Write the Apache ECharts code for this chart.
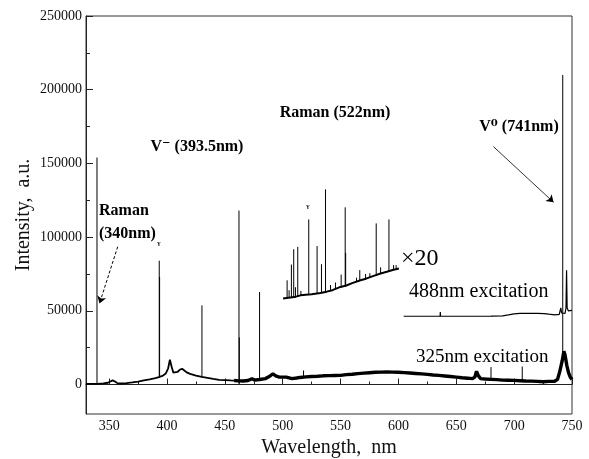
<!DOCTYPE html>
<html><head><meta charset="utf-8">
<script src="https://cdn.jsdelivr.net/npm/echarts@6/dist/echarts.min.js"></script>
<style>html,body{margin:0;padding:0;background:#fff}#c{width:589px;height:459px}</style>
</head><body><div id="c"></div>
<script>
// ---- axis ticks ----
const xTickLabels = [350, 400, 450, 500, 550, 600, 650, 700, 750];
const xMinorTicks = [375, 425, 475, 525, 575, 625, 675, 725];
const yTickLabels = [0, 50000, 100000, 150000, 200000, 250000];
const yMinorTicks = [25000, 75000, 125000, 175000, 225000];

// ---- 325 nm excitation: broad background (smooth part / noisy part) ----
const bgAWl  = [330,335,340,345,349,351,353,355,357,360,365,370,375,380,385,390,393,396,399,401,402.5,404,405.5,407,409,411,413,415,417,420,425,430,435,440,445,450,455,458];
const bgAInt = [500,500,500,800,1200,2000,2800,2000,1000,700,900,1400,2000,2800,3500,4400,5000,5800,7500,11000,16800,12000,8000,7300,8500,10000,10700,9500,8200,7200,6100,5200,4500,3800,3200,3000,2800,2700];
const bgBWl  = [458,462,466,470,473.4,476,480,485,488,491.6,494,497,503,508,512,515,520,525,530,535,540,545,550,555,560,565,570,575,580,585,590,595,600,605,610,615,620,625,630,635,640,645,650,655,660,664,666,667.5,669,671,675,680,685,690,695,700,705,710,715,720,725,730,735,737.5,739.5,741.5,743,744,745.5,747,748.5,750];
const bgBInt = [2700,2500,2400,2700,3900,3000,3400,4000,5200,7300,5800,5000,5000,4000,4400,4800,5200,5400,5600,5900,6000,6100,6200,6700,7000,7400,7700,8000,8300,8400,8500,8400,8300,8100,7800,7500,7200,6900,6500,6200,5800,5400,5000,4600,4300,4000,5000,9000,6000,4000,3700,3500,3300,3000,2900,2800,2600,2400,2300,2100,1900,2100,2200,3500,9000,16000,22500,20000,13000,8000,5000,3500];

// ---- sharp emission lines (wavelength, foot, top) ----
const lineWl   = [339.5, 393.3, 393.6, 430.2, 462.2, 462.5, 480, 518, 680, 707, 742];
const lineBase = [500, 5000, 5000, 5200, 500, 500, 3400, 5000, 3500, 2600, 22000];
const lineTop  = [154000, 84000, 73000, 53700, 118000, 32000, 62800, 9500, 11800, 12200, 210000];

// ---- 488 nm excitation trace (offset) ----
const ex488Wl  = [604.5,636,636.2,636.4,660,680,690,695,700,705,712,720,726,730,735,739,740.3,741,742.5,744,744.8,745.3,745.8,746.8,748,750];
const ex488Int = [46300,46300,49200,46300,46300,46400,46600,47200,47900,48200,48300,48300,48100,47700,47300,47600,52000,48500,48000,48300,52000,77500,52000,50000,50300,50300];

// ---- x20 inset (488 nm excitation, 500-600 nm) ----
const insetWl  = [500.3,505,510,515.3,520,525,532.6,538,543,549.9,555,560,567.2,572,578,584.6,590,595,600.4];
const insetInt = [58300,58900,59300,60500,60900,61300,62100,63000,64000,66200,67200,68800,70700,71800,73500,75300,76500,77700,78700];
const insetLineWl   = [503.8,505.5,507.5,509.5,511,513,515.7,522.5,529.7,533.5,537,541.3,545.6,550.5,554,554.4,563.8,566.6,571.6,575.3,580.8,584.6,591.8,595.8,598];
const insetLineBase = [58600,58700,58900,59100,59200,59400,60500,61000,61800,62200,62800,63600,64500,65800,66500,66500,69500,70300,71500,72500,74000,75200,76800,77800,78200];
const insetLineTop  = [70700,64000,81400,91800,66000,93400,63500,112000,93900,81600,132400,67500,69200,74600,120200,89300,72500,77600,75000,75500,109300,79500,112000,81000,81000];

const zip = (xs, ys) => xs.map((x, i) => [x, ys[i]]);
const spikes = (xs, b, t) => xs.flatMap((x, i) => [[x, b[i]], [x, t[i]], [x, '-']]);

const SERIF = '"Liberation Serif","DejaVu Serif",serif';
const X_MIN = 330, X_MAX = 750, Y_MIN = -20000, Y_MAX = 250000;

function lineSeries(data, width, extra) {
  return Object.assign({
    type: 'line', data, showSymbol: false, symbol: 'none', silent: true,
    connectNulls: false, animation: false,
    lineStyle: { color: '#000', width },
    emphasis: { disabled: true }
  }, extra || {});
}

const chart = echarts.init(document.getElementById('c'), null, { renderer: 'canvas' });
chart.setOption({
  animation: false,
  backgroundColor: '#fff',
  textStyle: { fontFamily: SERIF },
  grid: { left: 86, right: 17, top: 16, bottom: 45, outerBoundsMode: 'none', containLabel: false,
          show: true, borderColor: '#333', borderWidth: 1 },
  xAxis: [{
    type: 'value', min: X_MIN, max: X_MAX,
    name: 'Wavelength,  nm', nameLocation: 'middle', nameGap: 23,
    nameTextStyle: { fontFamily: SERIF, fontSize: 20, color: '#111' },
    axisLine: { show: true, lineStyle: { color: '#222', width: 1 } },
    axisTick: { show: true, inside: true, length: 6, customValues: xTickLabels, lineStyle: { color: '#222' } },
    axisLabel: { customValues: xTickLabels, margin: 5, fontFamily: SERIF, fontSize: 14, color: '#111', formatter: v => String(v) },
    splitLine: { show: false }
  }, {
    type: 'value', min: X_MIN, max: X_MAX, position: 'bottom',
    axisLine: { show: false },
    axisTick: { show: true, inside: true, length: 3, customValues: xMinorTicks, lineStyle: { color: '#222' } },
    axisLabel: { show: false }, splitLine: { show: false }
  }],
  yAxis: [{
    type: 'value', min: Y_MIN, max: Y_MAX,
    name: 'Intensity,  a.u.', nameLocation: 'middle', nameGap: 52, nameRotate: 90, nameMoveOverlap: false,
    nameTextStyle: { fontFamily: SERIF, fontSize: 20, color: '#111' },
    axisLine: { show: true, lineStyle: { color: '#222', width: 1 } },
    axisTick: { show: true, inside: true, length: 7, customValues: yTickLabels, lineStyle: { color: '#222' } },
    axisLabel: { customValues: yTickLabels, margin: 4, fontFamily: SERIF, fontSize: 14, color: '#111', formatter: v => String(v) },
    splitLine: { show: false }
  }, {
    type: 'value', min: Y_MIN, max: Y_MAX, position: 'left',
    axisLine: { show: false },
    axisTick: { show: true, inside: true, length: 4, customValues: yMinorTicks, lineStyle: { color: '#222' } },
    axisLabel: { show: false }, splitLine: { show: false }
  }],
  series: [
    lineSeries(zip(bgAWl, bgAInt), 1.8, {
      markLine: {
        silent: true, animation: false, symbol: ['none', 'arrow'], symbolSize: 7,
        label: { show: false },
        data: [
          [{ coord: [357.4, 93500], lineStyle: { type: [3, 2], color: '#000', width: 1 } }, { coord: [341.7, 55000] }],
          [{ coord: [682.1, 161400], lineStyle: { type: 'solid', color: '#000', width: 0.8 } }, { coord: [734.1, 123600] }]
        ]
      }
    }),
    lineSeries(zip(bgBWl, bgBInt), 3.4),
    lineSeries(spikes(lineWl, lineBase, lineTop), 1),
    lineSeries(zip(ex488Wl, ex488Int), 1.2),
    lineSeries(zip(insetWl, insetInt), 2),
    lineSeries(spikes(insetLineWl, insetLineBase, insetLineTop), 1)
  ],
  graphic: [
    { type: 'text', x: 335, y: 113, style: { text: 'Raman (522nm)', font: 'bold 16px ' + SERIF, fill: '#000', align: 'center', verticalAlign: 'middle' } },
    { type: 'text', x: 197, y: 147, style: { text: 'V\u207B (393.5nm)', font: 'bold 16px ' + SERIF, fill: '#000', align: 'center', verticalAlign: 'middle' } },
    { type: 'text', x: 519, y: 127, style: { text: 'V\u2070 (741nm)', font: 'bold 16px ' + SERIF, fill: '#000', align: 'center', verticalAlign: 'middle' } },
    { type: 'text', x: 99, y: 211, style: { text: 'Raman', font: 'bold 16px ' + SERIF, fill: '#000', align: 'left', verticalAlign: 'middle' } },
    { type: 'text', x: 99, y: 234, style: { text: '(340nm)', font: 'bold 16px ' + SERIF, fill: '#000', align: 'left', verticalAlign: 'middle' } },
    { type: 'text', x: 159, y: 243, style: { text: '\u03B3', font: 'bold 7px ' + SERIF, fill: '#000', align: 'center', verticalAlign: 'middle' } },
    { type: 'text', x: 308, y: 206, style: { text: '\u03B3', font: 'bold 7px ' + SERIF, fill: '#000', align: 'center', verticalAlign: 'middle' } },
    { type: 'text', x: 401, y: 259, style: { text: '\u00D720', font: '24px ' + SERIF, fill: '#000', align: 'left', verticalAlign: 'middle' } },
    { type: 'text', x: 409, y: 292, style: { text: '488nm excitation', font: '20px ' + SERIF, fill: '#000', align: 'left', verticalAlign: 'middle' } },
    { type: 'text', x: 416, y: 357, style: { text: '325nm excitation', font: '19px ' + SERIF, fill: '#000', align: 'left', verticalAlign: 'middle' } }
  ]
});
</script>
</body></html>
